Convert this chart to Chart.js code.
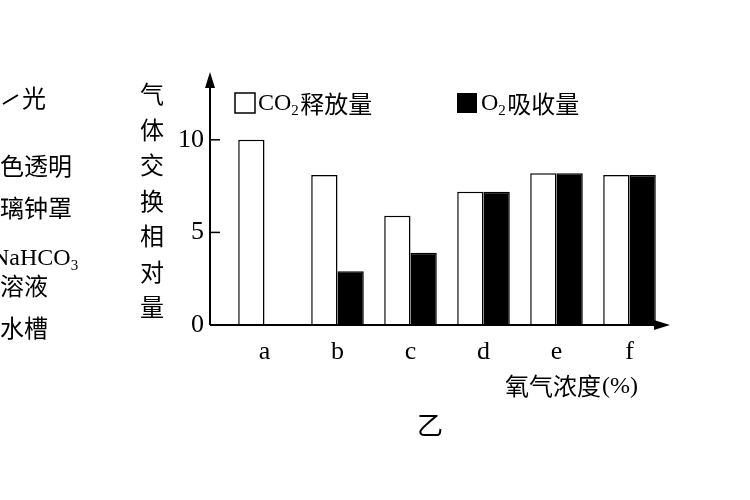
<!DOCTYPE html><html><head><meta charset="utf-8">
<script src="https://cdn.jsdelivr.net/npm/chart.js@4"></script>
<style>body{margin:0;background:#fff}</style></head><body><canvas id="c" width="750" height="500" style="width:750px;height:500px"></canvas>
<script>
const categories=['a','b','c','d','e','f'];
const co2Release=[10,8.1,5.9,7.2,8.2,8.1];
const o2Uptake=[0,2.9,3.9,7.2,8.2,8.1];
const yTicks=[0,5,10];
const CJK='"Noto Sans CJK SC"', SER='"Liberation Serif"';
const deco={id:'deco',afterDraw(ch){const c=ch.ctx,y=ch.scales.y,x=ch.scales.x;const ax=210,y0=y.getPixelForValue(0);
c.save();c.strokeStyle='#000';c.fillStyle='#000';c.lineWidth=2;
c.beginPath();c.moveTo(ax,y0);c.lineTo(ax,82);c.moveTo(ax,y0);c.lineTo(660,y0);c.stroke();
c.beginPath();c.moveTo(ax,72);c.lineTo(ax-5,88);c.lineTo(ax+5,88);c.fill();
c.beginPath();c.moveTo(670,y0);c.lineTo(654,y0-5);c.lineTo(654,y0+5);c.fill();
c.lineWidth=1.5;yTicks.forEach(v=>{const p=y.getPixelForValue(v);c.beginPath();c.moveTo(ax,p);c.lineTo(ax+10,p);c.stroke();
c.font='26px '+SER;c.textAlign='right';c.textBaseline='middle';c.fillText(String(v),ax-6,p);});
c.font='26px '+SER;c.textAlign='center';c.textBaseline='middle';categories.forEach((t,i)=>c.fillText(t,x.getPixelForValue(i),352));
c.font='24px '+CJK;c.textAlign='center';'气体交换相对量'.split('').forEach((ch2,i)=>c.fillText(ch2,152,94+i*35.5));
c.textAlign='left';
c.lineWidth=1.5;c.strokeRect(235,93,20,20);c.font='24px '+SER;c.fillText('CO',258,104);let w=c.measureText('CO').width;c.font='15px '+SER;c.fillText('2',258+w,111);c.font='24px '+CJK;c.fillText('释放量',258+w+9,104);
c.fillRect(457,93,20,20);c.font='24px '+SER;c.fillText('O',481,104);w=c.measureText('O').width;c.font='15px '+SER;c.fillText('2',481+w,111);c.font='24px '+CJK;c.fillText('吸收量',481+w+9,104);
c.font='24px '+CJK;c.fillText('氧气浓度',505,386);c.font='24px '+SER;c.fillText('(%)',602,387);
c.font='26px '+CJK;c.fillText('乙',417,425);
c.font='24px '+CJK;c.fillText('光',22,98);c.fillText('色透明',0,166);c.fillText('璃钟罩',0,208);c.fillText('溶液',0,286);c.fillText('水槽',0,328);
c.font='24px '+SER;c.fillText('NaHCO',-8,259);w=c.measureText('NaHCO').width;c.font='15px '+SER;c.fillText('3',-8+w,266);
c.lineWidth=2;c.beginPath();c.moveTo(3,104);c.lineTo(18,95);c.stroke();
c.restore();}};
new Chart(document.getElementById('c'),{type:'bar',data:{labels:categories,datasets:[
{label:'CO2释放量',data:co2Release,backgroundColor:'#fff',borderColor:'#000',borderWidth:1.5,categoryPercentage:0.72,barPercentage:1},
{label:'O2吸收量',data:o2Uptake,backgroundColor:'#000',borderColor:'#000',borderWidth:1.5,categoryPercentage:0.72,barPercentage:1}]},
options:{responsive:false,animation:false,devicePixelRatio:1,layout:{padding:{left:228,right:84,top:75,bottom:175}},
plugins:{legend:{display:false},tooltip:{enabled:false}},
scales:{x:{display:false},y:{display:false,min:0,max:13.5}}},plugins:[deco]});
</script></body></html>
